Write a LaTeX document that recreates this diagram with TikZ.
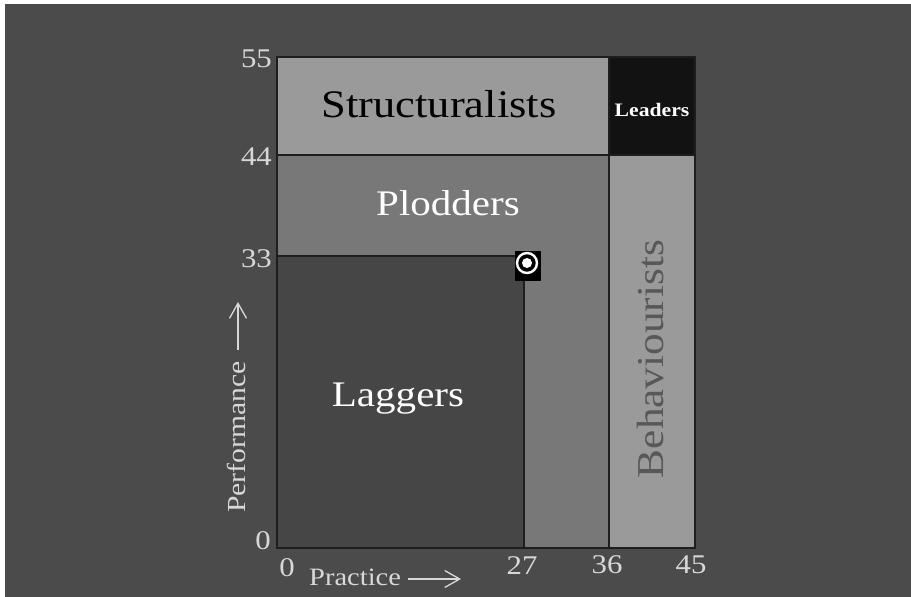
\documentclass[tikz,border=0pt]{standalone}
\usepackage{fontspec}
\setmainfont[FakeStretch=1.14]{Liberation Serif}
\usetikzlibrary{arrows.meta}
\definecolor{bgdark}{HTML}{4B4B4B}
\definecolor{lagfill}{HTML}{464646}
\definecolor{plodfill}{HTML}{787878}
\definecolor{structfill}{HTML}{9A9A9A}
\definecolor{leadfill}{HTML}{121212}
\definecolor{edgec}{HTML}{1E1E1E}
\definecolor{ticktext}{HTML}{D8D8D8}
\definecolor{behavtext}{HTML}{585858}
\tikzset{
  zone/.style={draw=edgec, line width=1.6pt},
  tick/.style={text=ticktext, font=\fontsize{27}{27}\selectfont, inner sep=0pt},
  axislabel/.style={text=ticktext, font=\fontsize{25}{25}\selectfont, inner sep=0pt},
  axisarrow/.style={draw=ticktext, line width=1.2pt, -{Straight Barb[length=15pt,width=17pt,line width=1.3pt]}},
  biglabel/.style={font=\fontsize{38}{38}\selectfont, inner sep=0pt, anchor=base},
}
\begin{document}
\begin{tikzpicture}[x=1pt,y=-1pt]
\useasboundingbox (0,0) rectangle (911,597);
\fill[white] (0,0) rectangle (911,597);
\fill[bgdark] (5,4) rectangle (911,597);

% grid positions of the scale values
\def\xa{277}\def\xb{524}\def\xc{609}\def\xd{695}
\def\ya{57}\def\yb{155}\def\yc{256}\def\yd{548}

% zones
\fill[structfill] (\xa,\ya) rectangle (\xc,\yb);
\fill[leadfill] (\xc,\ya) rectangle (\xd,\yb);
\fill[plodfill] (\xa,\yb) rectangle (\xc,\yd);
\fill[lagfill] (\xa,\yc) rectangle (\xb,\yd);
\fill[structfill] (\xc,\yb) rectangle (\xd,\yd);

\draw[zone] (\xa,\yc) -- (\xb,\yc) -- (\xb,\yd);
\draw[zone] (\xa,\yb) -- (\xc,\yb);
\draw[zone] (\xc,\ya) -- (\xc,\yd);
\draw[zone] (\xc,\yb) -- (\xd,\yb);
\draw[zone] (\xa,\ya) rectangle (\xd,\yd);

% zone names
\node[biglabel, text=black, font=\fontsize{39}{39}\selectfont] (structuralists) at (439,117) {Structuralists};
\node[biglabel, text=white, font=\fontsize{36}{36}\selectfont] (plodders) at (448,215) {Plodders};
\node[biglabel, text=white, font=\fontsize{36}{36}\selectfont] (laggers) at (398,406) {Laggers};
\node[biglabel, text=white, font=\fontsize{19}{19}\selectfont\bfseries] (leaders) at (652,116) {Leaders};
\node[biglabel, text=behavtext, rotate=90] (behaviourists) at (663,359) {Behaviourists};

% current position marker
\node[fill=black, minimum width=26pt, minimum height=30pt, inner sep=0pt] (marker) at (528,266) {};
\draw[white, line width=2.4pt] (527,263) circle (10pt);
\fill[white] (527,263) circle (5pt);

% vertical scale
\node[tick, anchor=east] (t55) at (272,59) {55};
\node[tick, anchor=east] (t44) at (272,157) {44};
\node[tick, anchor=east] (t33) at (272,259) {33};
\node[tick, anchor=east] (t0) at (271,541) {0};

% horizontal scale
\node[tick, anchor=north] (s0) at (287,558) {0};
\node[tick, anchor=north] (s27) at (522,556) {27};
\node[tick, anchor=north] (s36) at (607,555) {36};
\node[tick, anchor=north] (s45) at (691,556) {45};

% axis names
\node[axislabel, anchor=base west] (practice) at (309,585) {Practice};
\coordinate (pstart) at (408,579);
\coordinate (pend) at (461,579);
\draw[axisarrow] (pstart) -- (pend);

\node[axislabel, anchor=base west, rotate=90, font=\fontsize{26}{26}\selectfont] (performance) at (245,513) {Performance};
\coordinate (vstart) at (238,350);
\coordinate (vend) at (238,302);
\draw[axisarrow] (vstart) -- (vend);
\end{tikzpicture}
\end{document}
